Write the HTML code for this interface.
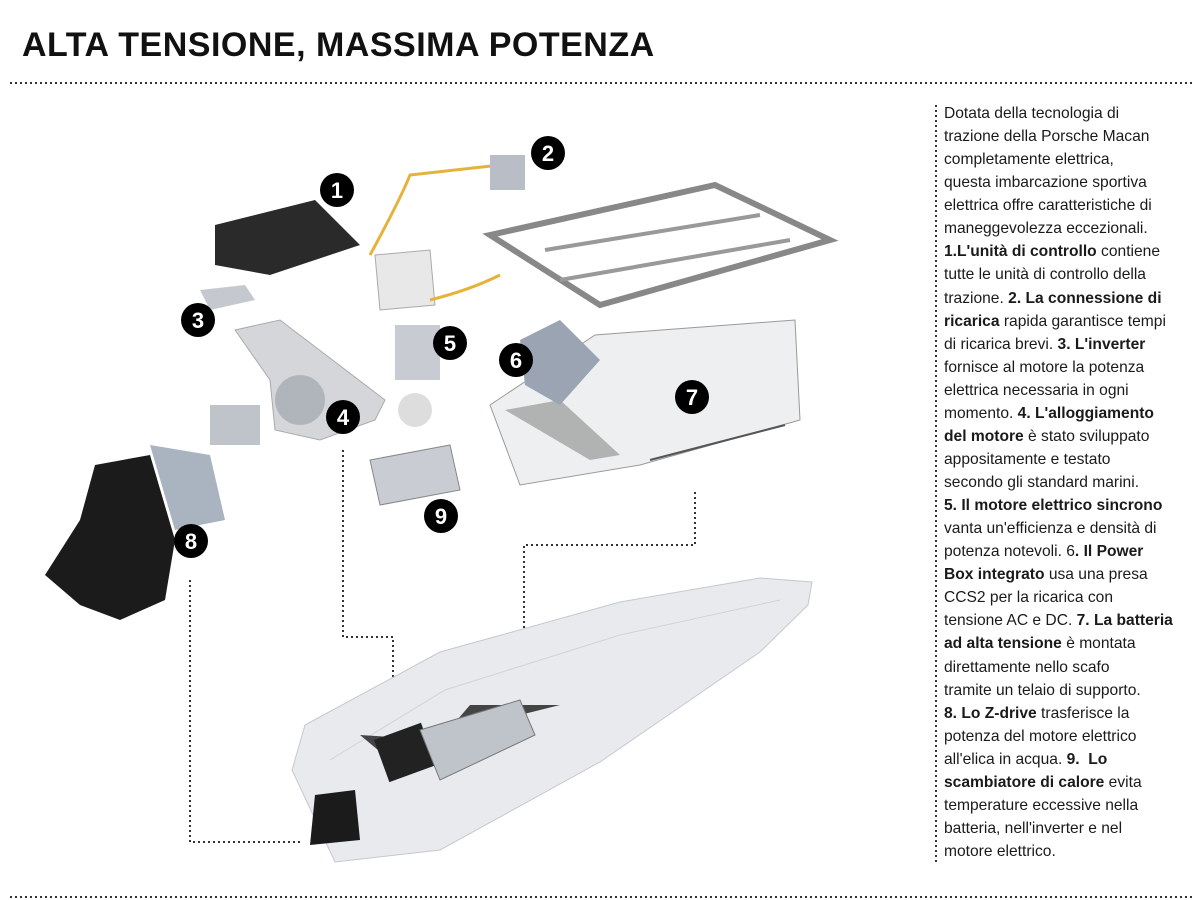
<!DOCTYPE html>
<html><head><meta charset="utf-8"><style>
body{margin:0;width:1200px;height:900px;background:#fff;position:relative;overflow:hidden;font-family:"Liberation Sans",sans-serif}
h1{position:absolute;left:22px;top:26px;margin:0;font-size:34px;font-weight:bold;color:#111;letter-spacing:0.5px}
.txt{position:absolute;left:944px;top:102px;width:256px;font-size:15.6px;line-height:23.06px;color:#1a1a1a}
.txt b{font-weight:bold}
</style></head><body>
<h1>ALTA TENSIONE, MASSIMA POTENZA</h1>
<svg width="1200" height="900" style="position:absolute;left:0;top:0">
<g stroke="#333" stroke-width="2" stroke-dasharray="2 3" fill="none">
<line x1="10" y1="83" x2="1192" y2="83"/>
<line x1="10" y1="897" x2="1192" y2="897"/>
<line x1="936" y1="105" x2="936" y2="865"/>
<polyline points="343,450 343,637 393,637 393,728"/>
<polyline points="190,580 190,842 300,842"/>
<polyline points="695,492 695,545 524,545 524,760"/>
</g>
<path d="M292,770 L305,725 L440,652 L620,602 L760,578 L812,582 L808,605 L760,652 L600,762 L440,850 L335,862 Z" fill="#e8eaee" stroke="#c5c8cd"/>
<path d="M330,760 L445,690 L620,635 L780,600" fill="none" stroke="#d0d3d8"/>
<path d="M360,735 L390,760 L500,720 L560,705 L525,705 L470,705 L440,740 Z" fill="#444"/>
<rect x="380" y="730" width="50" height="45" fill="#222" transform="rotate(-20 405 752)"/>
<path d="M420,730 L520,700 L535,735 L440,780 Z" fill="#bfc4cb" stroke="#777"/>
<path d="M315,795 L355,790 L360,840 L310,845 Z" fill="#1b1b1b"/>
<path d="M490,405 L595,335 L795,320 L800,420 L640,465 L520,485 Z" fill="#eeeff1" stroke="#999"/>
<path d="M505,410 L590,460 L620,455 L560,400 Z" fill="#888" opacity=".6"/>
<line x1="650" y1="460" x2="785" y2="425" stroke="#555" stroke-width="2"/>
<path d="M490,235 L715,185 L830,240 L600,305 Z" fill="none" stroke="#888" stroke-width="6"/>
<path d="M545,250 L760,215 M560,280 L790,240" stroke="#999" stroke-width="4"/>
<path d="M520,340 L560,320 L600,360 L560,405 L525,385 Z" fill="#9aa4b2"/>
<path d="M215,225 L315,200 L360,245 L270,275 L215,265 Z" fill="#2a2a2a"/>
<path d="M375,255 L430,250 L435,305 L380,310 Z" fill="#e8e8e8" stroke="#aaa"/>
<path d="M370,255 Q400,200 410,175 L500,165" stroke="#e5b33a" stroke-width="3" fill="none"/>
<path d="M430,300 Q470,290 500,275" stroke="#e5b33a" stroke-width="3" fill="none"/>
<rect x="490" y="155" width="35" height="35" fill="#b9bec6"/>
<path d="M200,290 L245,285 L255,300 L210,310 Z" fill="#c5c9cf"/>
<path d="M235,330 L280,320 L385,400 L375,420 L320,440 L275,430 L270,380 Z" fill="#d4d6da" stroke="#aaa"/>
<circle cx="300" cy="400" r="25" fill="#b0b5bc"/>
<rect x="210" y="405" width="50" height="40" fill="#bfc4cb"/>
<rect x="395" y="325" width="45" height="55" fill="#c8ccd2"/>
<circle cx="415" cy="410" r="17" fill="#ddd"/>
<path d="M370,460 L450,445 L460,490 L380,505 Z" fill="#c9cdd3" stroke="#888"/>
<path d="M95,465 L150,455 L175,540 L165,600 L120,620 L80,605 L45,575 L80,520 Z" fill="#1b1b1b"/>
<path d="M150,445 L210,455 L225,520 L175,530 Z" fill="#aab3c0"/>
<g font-family="Liberation Sans" font-weight="bold" font-size="22" fill="#fff" text-anchor="middle">
<circle cx="337" cy="190" r="17" fill="#000"/><text x="337" y="198">1</text>
<circle cx="548" cy="153" r="17" fill="#000"/><text x="548" y="161">2</text>
<circle cx="198" cy="320" r="17" fill="#000"/><text x="198" y="328">3</text>
<circle cx="343" cy="417" r="17" fill="#000"/><text x="343" y="425">4</text>
<circle cx="450" cy="343" r="17" fill="#000"/><text x="450" y="351">5</text>
<circle cx="516" cy="360" r="17" fill="#000"/><text x="516" y="368">6</text>
<circle cx="692" cy="397" r="17" fill="#000"/><text x="692" y="405">7</text>
<circle cx="191" cy="541" r="17" fill="#000"/><text x="191" y="549">8</text>
<circle cx="441" cy="516" r="17" fill="#000"/><text x="441" y="524">9</text>
</g>
</svg>
<div class="txt">Dotata della tecnologia di<br>trazione della Porsche Macan<br>completamente elettrica,<br>questa imbarcazione sportiva<br>elettrica offre caratteristiche di<br>maneggevolezza eccezionali.<br><b>1.L'unità di controllo</b> contiene<br>tutte le unità di controllo della<br>trazione. <b>2. La connessione di</b><br><b>ricarica</b> rapida garantisce tempi<br>di ricarica brevi. <b>3. L'inverter</b><br>fornisce al motore la potenza<br>elettrica necessaria in ogni<br>momento. <b>4. L'alloggiamento</b><br><b>del motore</b> è stato sviluppato<br>appositamente e testato<br>secondo gli standard marini.<br><b>5. Il motore elettrico sincrono</b><br>vanta un'efficienza e densità di<br>potenza notevoli. 6<b>. Il Power</b><br><b>Box integrato</b> usa una presa<br>CCS2 per la ricarica con<br>tensione AC e DC. <b>7. La batteria</b><br><b>ad alta tensione</b> è montata<br>direttamente nello scafo<br>tramite un telaio di supporto.<br><b>8. Lo Z-drive</b> trasferisce la<br>potenza del motore elettrico<br>all'elica in acqua. <b>9.&nbsp; Lo</b><br><b>scambiatore di calore</b> evita<br>temperature eccessive nella<br>batteria, nell'inverter e nel<br>motore elettrico.</div>
</body></html>
